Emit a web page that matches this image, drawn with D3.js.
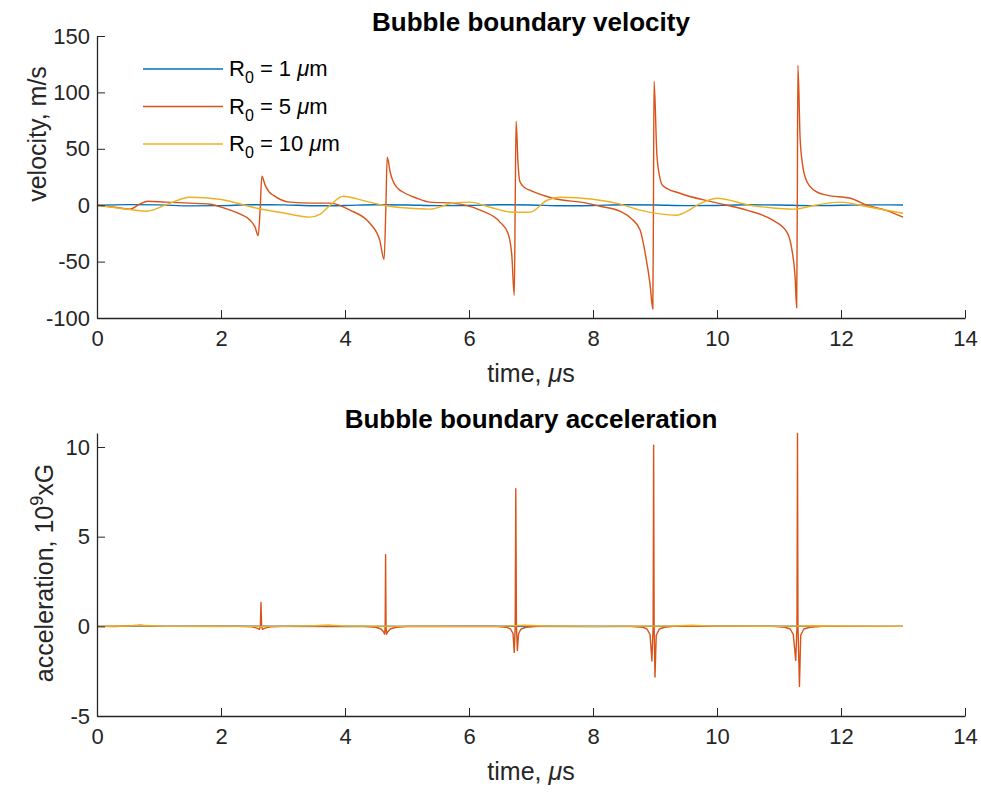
<!DOCTYPE html>
<html>
<head>
<meta charset="utf-8">
<script src="https://d3js.org/d3.v7.min.js"></script>
<style>
  body { margin: 0; background: #fff; }
  svg { font-family: "Liberation Sans", Arial, Helvetica, sans-serif; }
  .axis path, .axis line { stroke: #262626; }
  .axis text { fill: #262626; font-size: 22px; }
  .series path { fill: none; stroke-width: 1.4; stroke-linejoin: round; }
</style>
</head>
<body>
<script>

// time ticks and value ticks
var timeTicks = [0, 2, 4, 6, 8, 10, 12, 14];
var velTicks = [-100, -50, 0, 50, 100, 150];
var accTicks = [-5, 0, 5, 10];

var seriesNames = ["1", "5", "10"];
var colors = ["#0072BD", "#D95319", "#EDB120"];

// velocity, m/s  [time us, value]
var velR1 = [[0,0],[0.5,0.5],[1.0,0.3],[1.5,-0.6],[2.0,-0.4],[2.5,0.4],[3.0,0.3],[3.5,-0.5],[4.0,-0.2],[4.5,0.4],[5.0,0.2],[5.5,-0.4],[6.0,-0.2],[6.5,0.4],[7.0,0.2],[7.5,-0.5],[8.0,-0.2],[8.5,0.4],[9.0,0.2],[9.5,-0.4],[10.0,-0.2],[10.5,0.4],[11.0,0.2],[11.5,-0.4],[12.0,-0.1],[12.5,0.3],[13.0,0.2]];

var velR5 = [[0,0],[0.29,-1.8],[0.53,-3.5],[0.69,0.9],[0.82,3.5],[1.10,2.7],[1.50,1.8],[1.82,0.9],[2.06,-2.7],[2.31,-8],[2.47,-13.3],[2.55,-19.5],[2.60,-27],[2.63,-5],[2.66,25.7],[2.71,18],[2.78,11.5],[2.84,8.9],[3.11,2.7],[3.48,1.8],[3.76,1.8],[4.08,-4.4],[4.40,-16],[4.56,-31],[4.63,-48],[4.66,0],[4.68,42.5],[4.73,29],[4.77,22],[4.85,15],[4.94,11.5],[5.16,6.2],[5.37,2.7],[5.74,1.8],[6.18,-4.4],[6.50,-15],[6.63,-25],[6.69,-44],[6.73,-80],[6.745,0],[6.76,74.5],[6.79,38],[6.82,21],[6.90,15.5],[6.98,13.3],[7.35,6.2],[7.90,1.8],[8.11,-0.9],[8.44,-5.5],[8.62,-12],[8.76,-22],[8.84,-42],[8.92,-70],[8.965,-92],[8.975,0],[8.985,110],[9.03,45],[9.08,24],[9.13,17],[9.40,10.6],[9.94,2.7],[10.48,-4.4],[10.90,-13.3],[11.13,-24],[11.21,-40],[11.26,-64],[11.285,-91],[11.295,0],[11.305,124],[11.34,60],[11.38,36],[11.45,21],[11.60,12],[11.77,8.9],[12.15,6.2],[12.42,0],[12.75,-5],[13.0,-10.6]];

var velR10 = [[0,0],[0.37,-2.7],[0.81,-5.3],[1.10,0],[1.50,7.1],[1.98,5.3],[2.58,-2.7],[3.03,-7.1],[3.44,-10.6],[3.60,-8],[3.76,0],[3.97,8],[4.30,4],[4.61,0],[5.00,-2.5],[5.37,-3.5],[5.74,1.8],[6.02,2.7],[6.34,-1.8],[6.71,-6.2],[6.98,-6.2],[7.26,4.4],[7.47,7.1],[8.00,5.3],[8.44,0.9],[8.76,-4.4],[9.35,-8.9],[9.50,-6],[9.68,0],[10.0,6.2],[10.53,0],[10.9,-2.5],[11.23,-3.5],[11.58,0],[11.98,2.7],[12.47,-1.8],[13.0,-7.1]];

// acceleration, 1e9 G  [time us, value]
var accR1 = [[0,0],[2,0.01],[4,-0.01],[6,0.01],[8,-0.01],[10,0.01],[12,0],[13,0]];

var accR5 = [[0,0],[0.3,-0.01],[0.55,0.04],[0.7,0.06],[0.85,0.01],[1.2,0],[2.3,0],[2.5,-0.03],[2.58,-0.1],[2.62,-0.17],[2.635,0],[2.645,1.33],[2.655,0],[2.67,-0.17],[2.71,-0.1],[2.8,-0.03],[3.0,0],
  [4.3,0],[4.5,-0.05],[4.58,-0.15],[4.62,-0.3],[4.64,-0.44],[4.648,0],[4.655,4.0],[4.662,0],[4.67,-0.44],[4.69,-0.3],[4.73,-0.15],[4.82,-0.05],[5.0,-0.01],
  [6.4,0],[6.6,-0.05],[6.67,-0.15],[6.71,-0.4],[6.73,-1.45],[6.745,0],[6.755,7.67],[6.765,0],[6.78,-1.35],[6.80,-0.4],[6.84,-0.15],[6.92,-0.05],[7.1,0],
  [8.6,0],[8.8,-0.05],[8.87,-0.15],[8.92,-0.45],[8.95,-1.93],[8.97,0],[8.978,10.1],[8.986,0],[9.0,-2.83],[9.02,-0.5],[9.07,-0.15],[9.15,-0.05],[9.3,0],
  [10.9,0],[11.1,-0.05],[11.18,-0.15],[11.23,-0.45],[11.27,-1.9],[11.29,0],[11.298,10.75],[11.306,0],[11.33,-3.35],[11.35,-0.5],[11.4,-0.15],[11.5,-0.05],[11.7,0],[13,0]];

var accR10 = [[0,0],[0.5,0.02],[0.8,0.05],[1.1,0.0],[2,-0.01],[3.0,0.0],[3.5,0.03],[3.75,0.07],[4.0,0.02],[5,0],[6.5,0.0],[6.9,0.06],[7.2,0.02],[8,0],[9.3,0.02],[9.6,0.06],[9.9,0.01],[11,0],[11.6,0.03],[12,0.01],[13,0]];

var width = 981, height = 792;

var svg = d3.select("body").append("svg")
    .attr("width", width)
    .attr("height", height);

// one panel: axes box off, ticks pointing inward like matlab
function panel(opts) {
  var x = d3.scaleLinear().domain([0, 14]).range([97, 965]);
  var y = d3.scaleLinear().domain(opts.ydomain).range([opts.bottom, opts.top]);

  var g = svg.append("g");

  var line = d3.line()
      .curve(opts.curve)
      .x(function(d) { return x(d[0]); })
      .y(function(d) { return y(d[1]); });

  g.append("g")
      .attr("class", "series")
    .selectAll("path")
      .data(opts.series)
    .enter().append("path")
      .attr("d", line)
      .style("stroke", function(d, i) { return colors[i]; });

  var xAxis = g.append("g")
      .attr("class", "axis")
      .attr("transform", "translate(0," + opts.bottom + ")")
      .call(d3.axisBottom(x).tickValues(timeTicks).tickFormat(function(d) { return String(d); })
        .tickSize(-8).tickSizeOuter(0).tickPadding(12));
  xAxis.select(".domain").attr("stroke-width", 1.3);

  var yAxis = g.append("g")
      .attr("class", "axis")
      .attr("transform", "translate(97,0)")
      .call(d3.axisLeft(y).tickValues(opts.ticks).tickFormat(function(d) { return String(d); })
        .tickSize(-8).tickSizeOuter(0).tickPadding(7));
  yAxis.select(".domain").attr("stroke-width", 1.3);

  // title
  g.append("text")
      .attr("x", 531)
      .attr("y", opts.top - 5)
      .attr("text-anchor", "middle")
      .style("font-size", "26px")
      .style("font-weight", "bold")
      .attr("fill", "#000")
      .text(opts.title);

  // x label
  var xl = g.append("text")
      .attr("x", 531)
      .attr("y", opts.bottom + 64)
      .attr("text-anchor", "middle")
      .style("font-size", "25px")
      .attr("fill", "#262626");
  xl.append("tspan").text("time, ");
  xl.append("tspan").style("font-style", "italic").text("\u03bc");
  xl.append("tspan").text("s");

  // y label
  var yl = g.append("text")
      .attr("transform", "translate(" + opts.ylabelX + "," + opts.ylabelY + ") rotate(-90)")
      .attr("text-anchor", "middle")
      .style("font-size", "25px")
      .attr("fill", "#262626");
  opts.ylabel(yl);

  return {x: x, y: y, g: g};
}

panel({
  top: 36, bottom: 318,
  ydomain: [-100, 150],
  ticks: velTicks,
  series: [velR1, velR5, velR10],
  curve: d3.curveMonotoneX,
  title: "Bubble boundary velocity",
  ylabelX: 46, ylabelY: 134,
  ylabel: function(t) { t.text("velocity, m/s"); }
});

panel({
  top: 433, bottom: 716,
  ydomain: [-5, 10.78],
  ticks: accTicks,
  series: [accR1, accR5, accR10],
  curve: d3.curveLinear,
  title: "Bubble boundary acceleration",
  ylabelX: 53, ylabelY: 573,
  ylabel: function(t) {
    t.append("tspan").text("acceleration, 10");
    t.append("tspan").attr("dy", -10).style("font-size", "18px").text("9");
    t.append("tspan").attr("dy", 10).text("xG");
  }
});

// legend, no box
var legend = svg.append("g").attr("class", "legend")
  .selectAll("g")
    .data(seriesNames)
  .enter().append("g")
    .attr("transform", function(d, i) { return "translate(143," + (69 + i * 37.5) + ")"; });

legend.append("line")
    .attr("x1", 0).attr("x2", 80)
    .attr("stroke-width", 1.4)
    .attr("stroke", function(d, i) { return colors[i]; });

var lt = legend.append("text")
    .attr("x", 86)
    .attr("y", 7)
    .style("font-size", "22px")
    .attr("fill", "#000");
lt.append("tspan").text("R");
lt.append("tspan").attr("dy", 7).style("font-size", "16px").text("0");
lt.append("tspan").attr("dy", -7).text(function(d) { return " = " + d + " "; });
lt.append("tspan").style("font-style", "italic").text("\u03bc");
lt.append("tspan").text("m");

</script>
</body>
</html>
